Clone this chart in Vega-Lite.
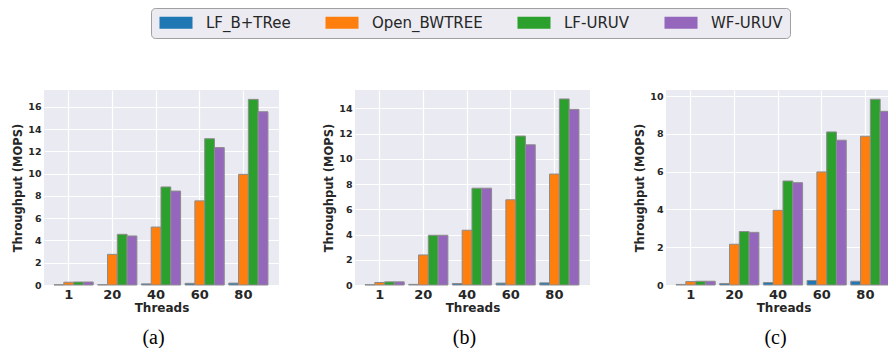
{
  "$schema": "https://vega.github.io/schema/vega-lite/v6.json",
  "padding": {"left": 12, "top": 7, "right": 0, "bottom": 0},
  "background": "white",
  "data": {"values": [
    {"panel": "a", "threads": "1", "series": "LF_B+TRee", "value": 0.02},
    {"panel": "a", "threads": "1", "series": "Open_BWTREE", "value": 0.25},
    {"panel": "a", "threads": "1", "series": "LF-URUV", "value": 0.27},
    {"panel": "a", "threads": "1", "series": "WF-URUV", "value": 0.27},
    {"panel": "a", "threads": "20", "series": "LF_B+TRee", "value": 0.03},
    {"panel": "a", "threads": "20", "series": "Open_BWTREE", "value": 2.75},
    {"panel": "a", "threads": "20", "series": "LF-URUV", "value": 4.55},
    {"panel": "a", "threads": "20", "series": "WF-URUV", "value": 4.4},
    {"panel": "a", "threads": "40", "series": "LF_B+TRee", "value": 0.1},
    {"panel": "a", "threads": "40", "series": "Open_BWTREE", "value": 5.2},
    {"panel": "a", "threads": "40", "series": "LF-URUV", "value": 8.8},
    {"panel": "a", "threads": "40", "series": "WF-URUV", "value": 8.43},
    {"panel": "a", "threads": "60", "series": "LF_B+TRee", "value": 0.15},
    {"panel": "a", "threads": "60", "series": "Open_BWTREE", "value": 7.55},
    {"panel": "a", "threads": "60", "series": "LF-URUV", "value": 13.13},
    {"panel": "a", "threads": "60", "series": "WF-URUV", "value": 12.33},
    {"panel": "a", "threads": "80", "series": "LF_B+TRee", "value": 0.17},
    {"panel": "a", "threads": "80", "series": "Open_BWTREE", "value": 9.93},
    {"panel": "a", "threads": "80", "series": "LF-URUV", "value": 16.66},
    {"panel": "a", "threads": "80", "series": "WF-URUV", "value": 15.55},
    {"panel": "b", "threads": "1", "series": "LF_B+TRee", "value": 0.02},
    {"panel": "b", "threads": "1", "series": "Open_BWTREE", "value": 0.2},
    {"panel": "b", "threads": "1", "series": "LF-URUV", "value": 0.25},
    {"panel": "b", "threads": "1", "series": "WF-URUV", "value": 0.25},
    {"panel": "b", "threads": "20", "series": "LF_B+TRee", "value": 0.05},
    {"panel": "b", "threads": "20", "series": "Open_BWTREE", "value": 2.38},
    {"panel": "b", "threads": "20", "series": "LF-URUV", "value": 3.94},
    {"panel": "b", "threads": "20", "series": "WF-URUV", "value": 3.94},
    {"panel": "b", "threads": "40", "series": "LF_B+TRee", "value": 0.12},
    {"panel": "b", "threads": "40", "series": "Open_BWTREE", "value": 4.34},
    {"panel": "b", "threads": "40", "series": "LF-URUV", "value": 7.67},
    {"panel": "b", "threads": "40", "series": "WF-URUV", "value": 7.67},
    {"panel": "b", "threads": "60", "series": "LF_B+TRee", "value": 0.15},
    {"panel": "b", "threads": "60", "series": "Open_BWTREE", "value": 6.75},
    {"panel": "b", "threads": "60", "series": "LF-URUV", "value": 11.8},
    {"panel": "b", "threads": "60", "series": "WF-URUV", "value": 11.11},
    {"panel": "b", "threads": "80", "series": "LF_B+TRee", "value": 0.17},
    {"panel": "b", "threads": "80", "series": "Open_BWTREE", "value": 8.79},
    {"panel": "b", "threads": "80", "series": "LF-URUV", "value": 14.74},
    {"panel": "b", "threads": "80", "series": "WF-URUV", "value": 13.92},
    {"panel": "c", "threads": "1", "series": "LF_B+TRee", "value": 0.03},
    {"panel": "c", "threads": "1", "series": "Open_BWTREE", "value": 0.18},
    {"panel": "c", "threads": "1", "series": "LF-URUV", "value": 0.2},
    {"panel": "c", "threads": "1", "series": "WF-URUV", "value": 0.2},
    {"panel": "c", "threads": "20", "series": "LF_B+TRee", "value": 0.08},
    {"panel": "c", "threads": "20", "series": "Open_BWTREE", "value": 2.16},
    {"panel": "c", "threads": "20", "series": "LF-URUV", "value": 2.83},
    {"panel": "c", "threads": "20", "series": "WF-URUV", "value": 2.79},
    {"panel": "c", "threads": "40", "series": "LF_B+TRee", "value": 0.13},
    {"panel": "c", "threads": "40", "series": "Open_BWTREE", "value": 3.96},
    {"panel": "c", "threads": "40", "series": "LF-URUV", "value": 5.51},
    {"panel": "c", "threads": "40", "series": "WF-URUV", "value": 5.42},
    {"panel": "c", "threads": "60", "series": "LF_B+TRee", "value": 0.24},
    {"panel": "c", "threads": "60", "series": "Open_BWTREE", "value": 5.99},
    {"panel": "c", "threads": "60", "series": "LF-URUV", "value": 8.11},
    {"panel": "c", "threads": "60", "series": "WF-URUV", "value": 7.67},
    {"panel": "c", "threads": "80", "series": "LF_B+TRee", "value": 0.2},
    {"panel": "c", "threads": "80", "series": "Open_BWTREE", "value": 7.88},
    {"panel": "c", "threads": "80", "series": "LF-URUV", "value": 9.84},
    {"panel": "c", "threads": "80", "series": "WF-URUV", "value": 9.2}
  ]},
  "spacing": 44,
  "hconcat": [
    {
      "width": 235, "height": 195,
      "title": {"text": "(a)"},
      "transform": [{"filter": "datum.panel === 'a'"}],
      "mark": {"type": "bar", "stroke": "#8c8c8c", "strokeWidth": 1},
      "encoding": {
        "x": {"field": "threads", "type": "nominal", "sort": ["1", "20", "40", "60", "80"], "title": "Threads",
              "scale": {"paddingInner": 0, "paddingOuter": 0.19, "align": 0.17}},
        "xOffset": {"field": "series", "type": "nominal", "sort": ["LF_B+TRee", "Open_BWTREE", "LF-URUV", "WF-URUV"],
                    "scale": {"range": [7.2, 46.4], "paddingInner": 0, "paddingOuter": 0}},
        "y": {"field": "value", "type": "quantitative", "title": "Throughput (MOPS)",
              "scale": {"domain": [0, 17.5], "nice": false},
              "axis": {"values": [0, 2, 4, 6, 8, 10, 12, 14, 16]}},
        "color": {"field": "series", "type": "nominal", "sort": ["LF_B+TRee", "Open_BWTREE", "LF-URUV", "WF-URUV"],
                  "scale": {"range": ["#1f77b4", "#ff7f0e", "#2ca02c", "#9467bd"]},
                  "legend": {"title": null}}
      }
    },
    {
      "width": 235, "height": 195,
      "title": {"text": "(b)"},
      "transform": [{"filter": "datum.panel === 'b'"}],
      "mark": {"type": "bar", "stroke": "#8c8c8c", "strokeWidth": 1},
      "encoding": {
        "x": {"field": "threads", "type": "nominal", "sort": ["1", "20", "40", "60", "80"], "title": "Threads",
              "scale": {"paddingInner": 0, "paddingOuter": 0.19, "align": 0.17}},
        "xOffset": {"field": "series", "type": "nominal", "sort": ["LF_B+TRee", "Open_BWTREE", "LF-URUV", "WF-URUV"],
                    "scale": {"range": [7.2, 46.4], "paddingInner": 0, "paddingOuter": 0}},
        "y": {"field": "value", "type": "quantitative", "title": "Throughput (MOPS)",
              "scale": {"domain": [0, 15.45], "nice": false},
              "axis": {"values": [0, 2, 4, 6, 8, 10, 12, 14]}},
        "color": {"field": "series", "type": "nominal", "sort": ["LF_B+TRee", "Open_BWTREE", "LF-URUV", "WF-URUV"],
                  "legend": {"title": null}}
      }
    },
    {
      "width": 235, "height": 195,
      "title": {"text": "(c)"},
      "transform": [{"filter": "datum.panel === 'c'"}],
      "mark": {"type": "bar", "stroke": "#8c8c8c", "strokeWidth": 1},
      "encoding": {
        "x": {"field": "threads", "type": "nominal", "sort": ["1", "20", "40", "60", "80"], "title": "Threads",
              "scale": {"paddingInner": 0, "paddingOuter": 0.19, "align": 0.17}},
        "xOffset": {"field": "series", "type": "nominal", "sort": ["LF_B+TRee", "Open_BWTREE", "LF-URUV", "WF-URUV"],
                    "scale": {"range": [7.2, 46.4], "paddingInner": 0, "paddingOuter": 0}},
        "y": {"field": "value", "type": "quantitative", "title": "Throughput (MOPS)",
              "scale": {"domain": [0, 10.33], "nice": false},
              "axis": {"values": [0, 2, 4, 6, 8, 10]}},
        "color": {"field": "series", "type": "nominal", "sort": ["LF_B+TRee", "Open_BWTREE", "LF-URUV", "WF-URUV"],
                  "legend": {"title": null}}
      }
    }
  ],
  "resolve": {"scale": {"y": "independent", "x": "independent", "xOffset": "independent"}},
  "config": {
    "font": "DejaVu Sans",
    "view": {"fill": "#EAEAF2", "stroke": null},
    "title": {"orient": "bottom", "font": "Liberation Serif", "fontSize": 20, "fontWeight": "normal", "color": "#000000", "offset": 15, "dx": -8, "anchor": "middle"},
    "axis": {"domain": false, "ticks": false, "gridColor": "#ffffff", "gridWidth": 1.2, "labelColor": "#262626", "titleColor": "#262626", "labelFontWeight": "bold", "titleFontWeight": "bold", "labelFont": "DejaVu Sans", "titleFont": "DejaVu Sans"},
    "axisX": {"labelFontSize": 13, "labelAngle": 0, "labelPadding": 3, "titleFontSize": 12, "titlePadding": 1, "grid": true},
    "axisY": {"labelFontSize": 9.5, "labelPadding": 3, "titleFontSize": 11.5, "titlePadding": 4},
    "legend": {
      "orient": "none", "legendX": 107, "legendY": -82, "direction": "horizontal",
      "labelFont": "DejaVu Sans", "labelFontSize": 15, "labelColor": "#262626",
      "symbolType": "M-1,-1H4.5V1H-1Z", "symbolSize": 144, "symbolStrokeWidth": 0, "symbolOpacity": 1,
      "labelOffset": 33, "columnPadding": 33, "padding": 7,
      "fillColor": "#EBEBF1", "strokeColor": "#a0a0a0", "cornerRadius": 4
    }
  }
}
